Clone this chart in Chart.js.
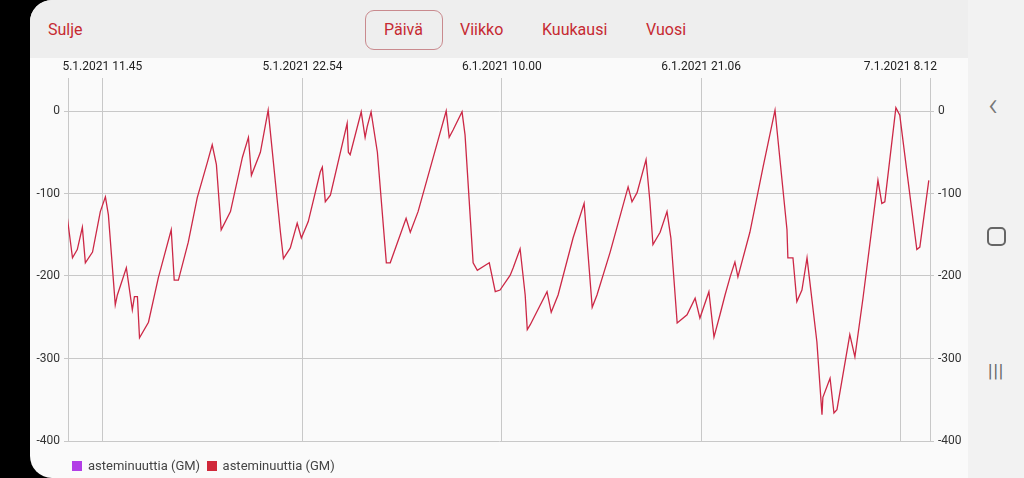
<!DOCTYPE html>
<html>
<head>
<meta charset="utf-8">
<script src="https://cdn.jsdelivr.net/npm/chart.js@4/dist/chart.umd.min.js"></script>
<style>
  body { margin: 0; width: 1024px; height: 478px; background: #000; overflow: hidden; font-family: Roboto, sans-serif; position: relative; }
  #panel { position: absolute; left: 30px; top: 0; width: 938px; height: 478px; background: #fafafa; border-radius: 22px 0 0 22px; overflow: hidden; }
  #header { position: absolute; left: 0; top: 0; width: 938px; height: 58px; background: #eeeeee; }
  .tab { position: absolute; top: 20px; color: #c62a32; font-size: 16px; }
  #paiva { position: absolute; left: 335px; top: 10px; width: 76px; height: 38px; border: 1px solid #c98a8e; border-radius: 9px; }
  #chartBox { position: absolute; left: 0; top: 58px; width: 938px; height: 420px; }
  #legend { position: absolute; left: 42px; top: 458px; font-size: 13px; color: #444; }
  .sw { display: inline-block; width: 10px; height: 10px; margin-right: 6px; vertical-align: -1px; }
  #nav { position: absolute; left: 968px; top: 0; width: 56px; height: 478px; background: #f2f2f2; color: #666; }
</style>
</head>
<body>
<div id="panel">
  <div id="header">
    <div class="tab" style="left:18px">Sulje</div>
    <div id="paiva"></div>
    <div class="tab" style="left:354px">Päivä</div>
    <div class="tab" style="left:430px">Viikko</div>
    <div class="tab" style="left:512px">Kuukausi</div>
    <div class="tab" style="left:616px">Vuosi</div>
  </div>
  <div id="chartBox"><canvas id="chartArea"></canvas></div>
  <div id="legend"><span class="sw" style="background:#b23ee6"></span>asteminuuttia (GM) &nbsp;<span class="sw" style="background:#d0283a"></span>asteminuuttia (GM)</div>
</div>
<div id="nav">
  <div style="position:absolute;left:20px;top:84px;font-size:34px;font-weight:300;color:#777">&#8249;</div>
  <div style="position:absolute;left:19px;top:227px;width:15px;height:15px;border:2px solid #666;border-radius:5px"></div>
  <div style="position:absolute;left:20px;top:360px;font-size:18px;letter-spacing:1px;color:#666">|||</div>
</div>
<script>
// minutes since 5.1.2021 11.45
const times = [-117, -100, -84, -67, -57, -33, -7, 10, 20, 43, 50, 80, 100, 107, 117, 124, 154, 187, 230, 240,
  254, 287, 317, 351, 367, 381, 397, 428, 468, 488, 498, 528, 554, 595, 605, 628, 651, 665, 688, 728,
  735, 745, 762, 818, 822, 828, 865, 878, 885, 898, 919, 949, 962, 1015, 1029, 1055, 1119, 1149, 1159, 1172,
  1202, 1212, 1239, 1253, 1293, 1313, 1329, 1363, 1373, 1396, 1413, 1420, 1430, 1486, 1500, 1523, 1573, 1610, 1620, 1637,
  1653, 1697, 1757, 1770, 1787, 1817, 1830, 1840, 1864, 1887, 1900, 1921, 1954, 1981, 1997, 2027, 2044, 2064, 2081, 2098,
  2114, 2124, 2164, 2208, 2248, 2288, 2291, 2308, 2321, 2338, 2355, 2388, 2405, 2408, 2432, 2445, 2455, 2498, 2515, 2542,
  2592, 2605, 2615, 2652, 2665, 2689, 2722, 2732, 2762];
const degreeMinutes = [-130, -178, -168, -141, -184, -171, -122, -104, -126, -235, -223, -190, -241, -225, -225, -275, -256, -202, -144, -205,
  -205, -159, -105, -62, -41, -65, -144, -122, -56, -32, -78, -50, 1, -147, -179, -166, -136, -154, -134, -74,
  -68, -110, -102, -15, -50, -53, -1, -32, -19, -1, -50, -184, -184, -130, -147, -122, -39, 0, -32, -23,
  -1, -29, -184, -193, -184, -219, -217, -199, -190, -167, -223, -265, -259, -219, -244, -223, -154, -112, -159, -238,
  -223, -171, -92, -110, -99, -59, -110, -162, -147, -122, -154, -257, -247, -227, -251, -219, -274, -247, -223, -201,
  -183, -201, -147, -68, 1, -144, -178, -178, -231, -217, -178, -280, -368, -347, -324, -366, -362, -271, -298, -227,
  -84, -112, -110, 4, -5, -74, -168, -165, -84];
const tickTimes = [0, 669, 1335, 2001, 2667];
const tickLabels = ['5.1.2021 11.45', '5.1.2021 22.54', '6.1.2021 10.00', '6.1.2021 21.06', '7.1.2021 8.12'];

const gridColor = '#c8c8c8';
const yAxis = (pos) => ({
  position: pos,
  min: -400, max: 40,
  afterBuildTicks: a => { a.ticks = [0, -100, -200, -300, -400].map(v => ({ value: v })); },
  afterFit: a => { a.width = 38; },
  grid: { color: gridColor, drawOnChartArea: pos === 'left', tickLength: 4 },
  border: { color: gridColor },
  ticks: { color: '#333', font: { family: 'Roboto', size: 12 }, padding: 4 }
});

new Chart(document.getElementById('chartArea'), {
  type: 'line',
  data: {
    datasets: [{
      label: 'asteminuuttia (GM)',
      data: times.map((t, i) => ({ x: t, y: degreeMinutes[i] })),
      borderColor: '#cc2846',
      borderWidth: 1.3,
      pointRadius: 0,
      tension: 0
    }]
  },
  options: {
    responsive: true,
    maintainAspectRatio: false,
    animation: false,
    layout: { padding: { bottom: 37 } },
    plugins: { legend: { display: false }, tooltip: { enabled: false } },
    scales: {
      x: {
        type: 'linear',
        position: 'top',
        min: -115, max: 2766,
        afterBuildTicks: a => { a.ticks = tickTimes.map(v => ({ value: v })); },
        afterFit: a => { a.height = 20; },
        grid: { color: gridColor, drawTicks: false },
        border: { display: false },
        ticks: {
          color: '#222', font: { family: 'Roboto', size: 12 }, padding: 4, maxRotation: 0,
          callback: (v) => tickLabels[tickTimes.indexOf(v)]
        }
      },
      y: yAxis('left'),
      y2: yAxis('right')
    }
  }
});
</script>
</body>
</html>
